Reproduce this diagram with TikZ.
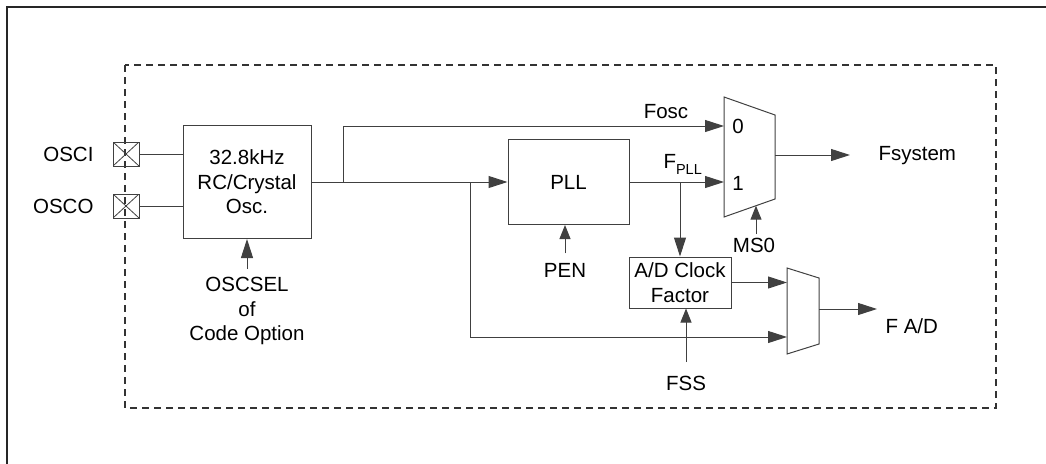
\documentclass[tikz,border=0pt]{standalone}
\usepackage{fontspec}
\setmainfont{Liberation Sans}
\usetikzlibrary{arrows.meta}

\tikzset{
  linea/.style={draw=black!75, line width=1pt},
  senal/.style={linea, -{Triangle[length=19pt,width=12pt]}},
  ctrl/.style={linea, -{Triangle[length=14pt,width=11pt]}},
  bloque/.style={linea, align=center, inner sep=0pt},
  pin/.style={linea, minimum width=26pt, minimum height=24pt, inner sep=0pt,
    path picture={\draw[black!75, line width=0.8pt]
      (path picture bounding box.north west) -- (path picture bounding box.south east)
      (path picture bounding box.north east) -- (path picture bounding box.south west);}},
}

\begin{document}
\begin{tikzpicture}[x=1pt, y=-1pt, font=\fontsize{20.5}{24.5}\selectfont]
  \useasboundingbox (0,0) rectangle (1046,463);
  % Marco exterior y borde punteado
  \draw[line width=2pt, black!85] (1060,7) -- (7,7) -- (7,475);
  \draw[dash pattern=on 7pt off 5pt, line width=1.3pt, black!80] (125,65) rectangle (996,408);

  % Pines del oscilador
  \node[pin] (osci) at (126,154) {};
  \node[pin] (osco) at (126,206) {};
  \node[anchor=east] (lblosci) at (97,154) {OSCI};
  \node[anchor=east] (lblosco) at (97,206) {OSCO};

  % Bloques
  \node[bloque, minimum width=128pt, minimum height=113pt] (osc) at (247,182) {32.8kHz\\RC/Crystal\\Osc.};
  \node[bloque, minimum width=121pt, minimum height=85pt] (pll) at (568.5,182) {PLL};
  \node[bloque, minimum width=102pt, minimum height=51pt] (adc) at (680,282.5) {A/D Clock\\Factor};

  % Multiplexores
  \coordinate (m1a) at (724,97);
  \coordinate (m1b) at (775,115);
  \coordinate (m1c) at (775,199);
  \coordinate (m1d) at (724,217);
  \draw[linea] (m1a) -- (m1b) -- (m1c) -- (m1d) -- cycle;
  \coordinate (m1in0) at (724,126);
  \coordinate (m1in1) at (724,182);
  \coordinate (m1out) at (775,155);
  \coordinate (m1sel) at (756,205.7);
  \node (lbl0) at (738,126) {0};
  \node (lbl1) at (738,183) {1};

  \coordinate (m2a) at (787,268);
  \coordinate (m2b) at (819,278);
  \coordinate (m2c) at (819,344);
  \coordinate (m2d) at (787,354);
  \draw[linea] (m2a) -- (m2b) -- (m2c) -- (m2d) -- cycle;
  \coordinate (m2in1) at (787,337);
  \coordinate (m2out) at (819,309);

  % Textos
  \node (fosc) at (666,112) {Fosc};
  \node[anchor=base west] (fpll) at (660,168) {F\raisebox{-6pt}{\fontsize{14.5}{16}\selectfont PLL}};
  \node[anchor=base west] (fsys) at (875,160) {Fsystem};
  \node[anchor=base west] (fad) at (882,333) {F A/D};
  \node (pen) at (565,270) {PEN};
  \node (ms0) at (754,245) {MS0};
  \node (fss) at (686,383) {FSS};
  \node[anchor=north, align=center] (oscsel) at (247,274) {OSCSEL\\of\\Code Option};

  % Conexiones
  \coordinate (j1) at (343,182);
  \coordinate (j2) at (470,182);
  \coordinate (j3) at (680,182);
  \coordinate (tsys) at (850,155);
  \coordinate (tad) at (877,309);
  \draw[linea] (osci.east) -- (osci.east -| osc.west);
  \draw[linea] (osco.east) -- (osco.east -| osc.west);
  \draw[senal] (osc.east) -- (pll.west);
  \draw[senal] (j1) |- (m1in0);
  \draw[senal] (pll.east) -- (m1in1);
  \draw[senal] (j3) -- (adc.north);
  \draw[senal] (j2) |- (m2in1);
  \draw[senal] (adc.east) -- (adc.east -| m2a);
  \draw[senal] (m1out) -- (tsys);
  \draw[senal] (m2out) -- (tad);
  % Senales de control
  \draw[senal] ([yshift=5pt]oscsel.north) -- (osc.south);
  \draw[ctrl] ([yshift=6pt]pen.north) -- (pen.north |- pll.south);
  \draw[ctrl] ([xshift=2pt]ms0.north) -- (m1sel);
  \draw[ctrl] ([yshift=10pt]fss.north) -- (fss.north |- adc.south);
\end{tikzpicture}
\end{document}
